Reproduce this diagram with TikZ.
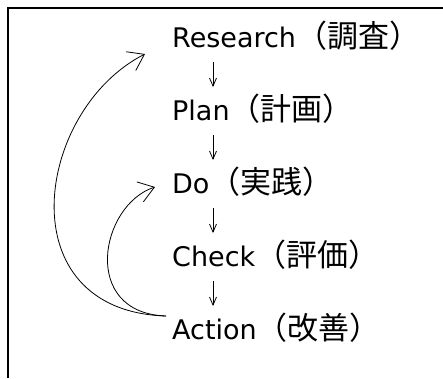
\documentclass[tikz,border=0pt]{standalone}
\usepackage{fontspec}
\setmainfont{DejaVu Sans}
\newfontfamily\jpfont{Noto Sans CJK JP}
\newcommand{\jp}[1]{{\jpfont\fontsize{31}{36}\selectfont #1}}
\usetikzlibrary{positioning,arrows.meta}

\begin{document}
\begin{tikzpicture}[x=1pt,y=1pt]
    \tikzstyle{stage}=[inner sep=0pt, anchor=base west, font=\fontsize{27}{32}\selectfont]
    \tikzstyle{down}=[-{Straight Barb[length=8pt,width=7pt]}, line width=0.8pt]
    \tikzstyle{back}=[-{Straight Barb[length=15pt,width=21pt]}, line width=0.8pt]

    \useasboundingbox (0,0) rectangle (443,-378);
    \draw[line width=1.2pt] (8,-378) -- (8,-8) -- (443,-8);

    \node[stage] (research) at (172,-47) {Research\jp{（調査）}};
    \node[stage, below=73pt of research.base west, anchor=base west] (plan) {Plan\jp{（計画）}};
    \node[stage, below=73pt of plan.base west, anchor=base west] (do) {Do\jp{（実践）}};
    \node[stage, below=73pt of do.base west, anchor=base west] (check) {Check\jp{（評価）}};
    \node[stage, below=73pt of check.base west, anchor=base west] (action) {Action\jp{（改善）}};

    \draw[down] ([shift={(41,-15)}]research.base west) -- ([shift={(41,33)}]plan.base west);
    \draw[down] ([shift={(41,-15)}]plan.base west) -- ([shift={(41,33)}]do.base west);
    \draw[down] ([shift={(41,-15)}]do.base west) -- ([shift={(41,33)}]check.base west);
    \draw[down] ([shift={(41,-15)}]check.base west) -- ([shift={(41,33)}]action.base west);

    % Action goes back to Research and to Do
    \draw[back] ([shift={(-6,23)}]action.base west) .. controls +(-160,5) and +(-110,-56) .. ([shift={(-27,-7)}]research.base west);
    \draw[back] ([shift={(-6,23)}]action.base west) .. controls +(-86,3) and +(-55,-18) .. ([shift={(-17,6)}]do.base west);
\end{tikzpicture}
\end{document}
